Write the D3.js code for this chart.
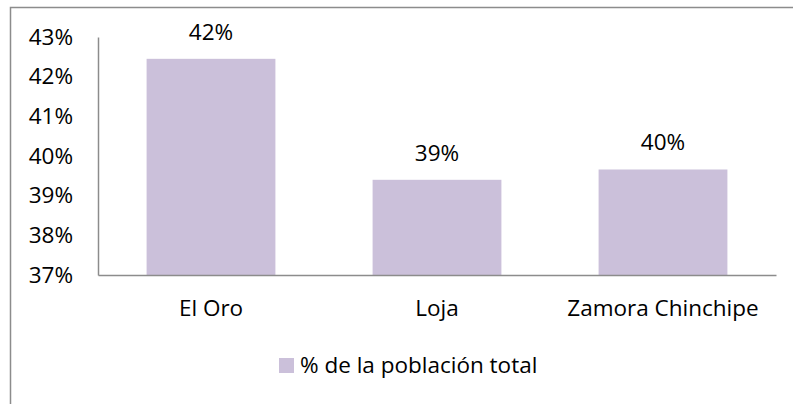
<!DOCTYPE html>
<html>
<head>
<meta charset="utf-8">
<script src="https://cdn.jsdelivr.net/npm/d3@7"></script>
<style>
  body { margin: 0; background: #fff; }
  svg text { font-family: "Open Sans", Lato, sans-serif; fill: #000; }
</style>
</head>
<body>
<div id="chart"></div>
<script>
// data
var categories = ["El Oro", "Loja", "Zamora Chinchipe"];
var values = [42.45, 39.4, 39.66];
var valueLabels = ["42%", "39%", "40%"];
var yTicks = [37, 38, 39, 40, 41, 42, 43];
var seriesName = "% de la población total";

var W = 793, H = 404;
var margin = {top: 37, right: 17, bottom: 129, left: 98},
    width = W - margin.left - margin.right,
    height = H - margin.top - margin.bottom;
var fs = "22.5px";

var svg = d3.select("#chart").append("svg")
    .attr("width", W)
    .attr("height", H);

// outer frame (cut off at right and bottom like the picture)
svg.append("path")
    .attr("d", "M10.5," + H + "V7.5H" + W)
    .attr("fill", "none")
    .attr("stroke", "#8c8c8c")
    .attr("stroke-width", 1.5);

var g = svg.append("g")
    .attr("transform", "translate(" + margin.left + "," + margin.top + ")");

var x = d3.scaleBand()
    .domain(categories)
    .range([0, width])
    .paddingInner(0.43)
    .paddingOuter(0.215);

var y = d3.scaleLinear()
    .domain([37, 43])
    .range([height, 0]);

// bars
g.selectAll(".bar")
    .data(values)
    .enter().append("rect")
    .attr("class", "bar")
    .attr("x", function(d, i) { return x(categories[i]); })
    .attr("width", x.bandwidth())
    .attr("y", function(d) { return y(d); })
    .attr("height", function(d) { return height - y(d); })
    .attr("fill", "#cbc0da");

// value labels
g.selectAll(".lbl")
    .data(values)
    .enter().append("text")
    .attr("class", "lbl")
    .attr("x", function(d, i) { return x(categories[i]) + x.bandwidth() / 2; })
    .attr("y", function(d) { return y(d) - 19; })
    .attr("text-anchor", "middle")
    .style("font-size", fs)
    .text(function(d, i) { return valueLabels[i]; });

// y axis
var yAxis = g.append("g")
    .call(d3.axisLeft(y).tickValues(yTicks).tickSize(0).tickPadding(25)
        .tickFormat(function(d) { return d + "%"; }));
yAxis.select(".domain").attr("stroke", "#8c8c8c").attr("stroke-width", 1.5);
yAxis.selectAll("text").style("font-size", fs).attr("fill", "#000");

// x axis
var xAxis = g.append("g")
    .attr("transform", "translate(0," + height + ")")
    .call(d3.axisBottom(x).tickSize(0).tickPadding(25));
xAxis.select(".domain").attr("stroke", "#8c8c8c").attr("stroke-width", 1.5);
xAxis.selectAll("text").style("font-size", fs).attr("fill", "#000");

// legend
var leg = svg.append("g").attr("transform", "translate(279,358)");
leg.append("rect")
    .attr("width", 15).attr("height", 15)
    .attr("fill", "#cbc0da");
leg.append("text")
    .attr("x", 21).attr("y", 7.5)
    .attr("dy", "0.35em")
    .style("font-size", fs)
    .text(seriesName);
</script>
</body>
</html>
